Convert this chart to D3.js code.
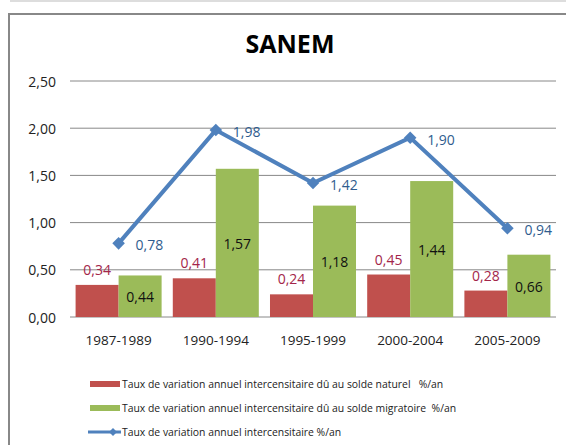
<!DOCTYPE html>
<html>
<head>
<meta charset="utf-8">
<script src="https://cdn.jsdelivr.net/npm/d3@7"></script>
<style>
  body { margin: 0; background: #fff; }
  svg { display: block; font-family: "Open Sans", "DejaVu Sans", sans-serif; }
</style>
</head>
<body>
<div id="chart"></div>
<script>
const periods = ["1987-1989", "1990-1994", "1995-1999", "2000-2004", "2005-2009"];
const soldeNaturel = [0.34, 0.41, 0.24, 0.45, 0.28];
const soldeMigratoire = [0.44, 1.57, 1.18, 1.44, 0.66];
const variationTotale = [0.78, 1.98, 1.42, 1.90, 0.94];
const yTicks = [0, 0.5, 1, 1.5, 2, 2.5];
const legendLabels = [
  "Taux de variation annuel intercensitaire dû au solde naturel   %/an",
  "Taux de variation annuel intercensitaire dû au solde migratoire  %/an",
  "Taux de variation annuel intercensitaire %/an"
];

function drawChart() {
  const width = 566;
  const height = 445;
  const fmt = v => d3.format(".2f")(v).replace(".", ",");

  const svg = d3.select("#chart").append("svg")
    .attr("width", width)
    .attr("height", height);

  // bandeau gris en haut + cadre du graphique
  svg.append("line")
    .attr("x1", 10).attr("x2", width).attr("y1", 1).attr("y2", 1)
    .attr("stroke", "#ddd").attr("stroke-width", 2);
  svg.append("rect")
    .attr("x", 9).attr("y", 14)
    .attr("width", 600).attr("height", 500)
    .attr("fill", "none").attr("stroke", "#888").attr("stroke-width", 2);

  svg.append("text")
    .attr("x", 290).attr("y", 53)
    .attr("text-anchor", "middle")
    .style("font-size", "25px").style("font-weight", "bold")
    .text("SANEM");

  const x = d3.scaleBand().domain(periods).range([70, 556]);
  const y = d3.scaleLinear().domain([0, 2.5]).range([317, 81]);
  const sub = d3.scaleBand().domain(["nat", "mig"]).range([0, x.bandwidth()]).paddingOuter(0.13);

  // grille
  svg.append("g").selectAll("line")
    .data(yTicks)
    .join("line")
    .attr("x1", 70).attr("x2", 556)
    .attr("y1", d => y(d)).attr("y2", d => y(d))
    .attr("stroke", "#888").attr("stroke-width", 1);

  const yAxis = svg.append("g")
    .attr("transform", "translate(62,0)")
    .call(d3.axisLeft(y).tickValues(yTicks).tickFormat(fmt).tickSize(0).tickPadding(6));
  yAxis.attr("font-family", null).attr("font-size", null);
  yAxis.select(".domain").remove();
  yAxis.selectAll("text").style("font-size", "14px").attr("fill", "#222").attr("dy", "0.36em");

  const xAxis = svg.append("g")
    .attr("transform", `translate(0,${y(0) + 15})`)
    .call(d3.axisBottom(x).tickSize(0));
  xAxis.attr("font-family", null).attr("font-size", null);
  xAxis.select(".domain").remove();
  xAxis.selectAll("text").style("font-size", "13.5px").attr("fill", "#222");

  // barres
  const groups = svg.append("g").selectAll("g")
    .data(periods)
    .join("g")
    .attr("transform", d => `translate(${x(d)},0)`);

  groups.append("rect")
    .attr("x", sub("nat")).attr("width", sub.bandwidth())
    .attr("y", (d, i) => y(soldeNaturel[i]))
    .attr("height", (d, i) => y(0) - y(soldeNaturel[i]))
    .attr("fill", "#C0504D");

  groups.append("rect")
    .attr("x", sub("mig")).attr("width", sub.bandwidth())
    .attr("y", (d, i) => y(soldeMigratoire[i]))
    .attr("height", (d, i) => y(0) - y(soldeMigratoire[i]))
    .attr("fill", "#9BBB59");

  groups.append("text")
    .attr("x", sub("nat") + sub.bandwidth() / 2)
    .attr("y", (d, i) => y(soldeNaturel[i]) - 10)
    .attr("text-anchor", "middle")
    .style("font-size", "14px").attr("fill", "#A3264A")
    .text((d, i) => fmt(soldeNaturel[i]));

  groups.append("text")
    .attr("x", sub("mig") + sub.bandwidth() / 2)
    .attr("y", (d, i) => (y(soldeMigratoire[i]) + y(0)) / 2 + 6)
    .attr("text-anchor", "middle")
    .style("font-size", "14px").attr("fill", "#111")
    .text((d, i) => fmt(soldeMigratoire[i]));

  // ligne
  const cx = d => x(d) + sub("mig");
  const line = d3.line().x((d, i) => cx(periods[i])).y(d => y(d));
  svg.append("path")
    .datum(variationTotale)
    .attr("d", line)
    .attr("fill", "none").attr("stroke", "#4F81BD").attr("stroke-width", 4);

  const diamond = d3.symbol().type(d3.symbolDiamond2).size(100);
  svg.append("g").selectAll("path")
    .data(variationTotale)
    .join("path")
    .attr("d", diamond)
    .attr("transform", (d, i) => `translate(${cx(periods[i])},${y(d)})`)
    .attr("fill", "#4F81BD");

  svg.append("g").selectAll("text")
    .data(variationTotale)
    .join("text")
    .attr("x", (d, i) => cx(periods[i]) + 17)
    .attr("y", d => y(d) + 7)
    .style("font-size", "14px").attr("fill", "#2F5C8E")
    .text(d => fmt(d));

  // légende
  const leg = svg.append("g").attr("transform", "translate(90,0)");
  const rowY = [384, 408, 432];
  leg.append("rect").attr("x", 0).attr("y", rowY[0] - 3).attr("width", 30).attr("height", 6).attr("fill", "#C0504D");
  leg.append("rect").attr("x", 0).attr("y", rowY[1] - 3).attr("width", 30).attr("height", 6).attr("fill", "#9BBB59");
  leg.append("line").attr("x1", -2).attr("x2", 31).attr("y1", rowY[2]).attr("y2", rowY[2])
    .attr("stroke", "#4F81BD").attr("stroke-width", 3);
  leg.append("path").attr("d", d3.symbol().type(d3.symbolDiamond2).size(40))
    .attr("transform", `translate(23,${rowY[2]})`).attr("fill", "#4F81BD");

  leg.selectAll("text.lbl")
    .data(legendLabels)
    .join("text")
    .attr("class", "lbl")
    .attr("x", 32)
    .attr("y", (d, i) => rowY[i] + 4)
    .style("font-size", "10.4px").style("white-space", "pre").attr("fill", "#222")
    .text(d => d);
}

drawChart();
</script>
</body>
</html>
